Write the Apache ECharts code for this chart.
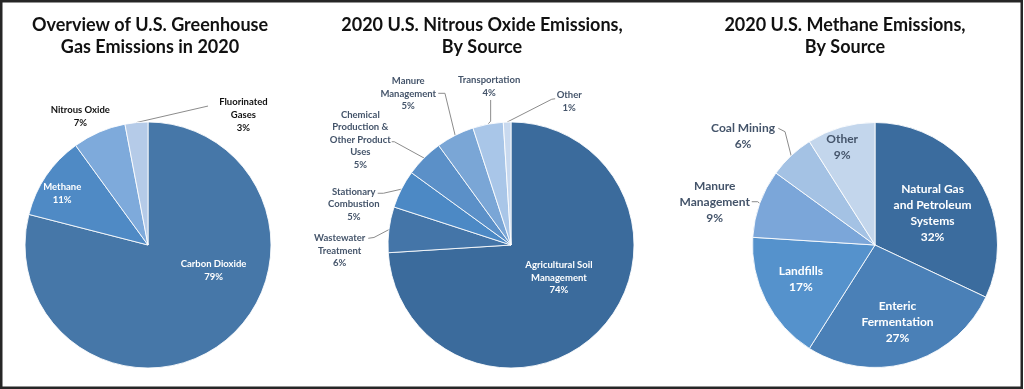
<!DOCTYPE html>
<html><head><meta charset="utf-8">
<script src="https://cdn.jsdelivr.net/npm/echarts@6/dist/echarts.min.js"></script>
<style>html,body{margin:0;padding:0;background:#fff}#c{width:1024px;height:389px}</style>
</head><body><div id="c"></div>
<script>
// ---- data ----
const titles = ['Overview of U.S. Greenhouse\nGas Emissions in 2020', '2020 U.S. Nitrous Oxide Emissions,\nBy Source', '2020 U.S. Methane Emissions,\nBy Source'];
const ghgNames = ['Carbon Dioxide', 'Methane', 'Nitrous Oxide', 'Fluorinated\nGases'];
const ghgValues = [79, 11, 7, 3];
const n2oNames = ['Agricultural Soil\nManagement', 'Wastewater\nTreatment', 'Stationary\nCombustion', 'Chemical\nProduction &\nOther Product\nUses', 'Manure\nManagement', 'Transportation', 'Other'];
const n2oValues = [74, 6, 5, 5, 5, 4, 1];
const ch4Names = ['Natural Gas\nand Petroleum\nSystems', 'Enteric\nFermentation', 'Landfills', 'Manure\nManagement', 'Coal Mining', 'Other'];
const ch4Values = [32, 27, 17, 9, 6, 9];

// ---- styles ----
const ghgColors = ['#4677a8', '#4f8ac5', '#7eaadb', '#b5cbe8'];
const n2oColors = ['#3b6b9c', '#4475a8', '#4c89c5', '#5b90c8', '#7aa6d6', '#a9c6e8', '#c8d9ef'];
const ch4Colors = ['#3b6c9e', '#4a80b7', '#5592cc', '#7ba6d9', '#a4c2e4', '#c3d6ec'];
const WHITE = '#ffffff', DARK = '#111111', SLATE = '#44546a';

// label placement (mode, offset, leader line relative to slice edge point, text colour)
const ghgLab = [
  {mode: 'in', off: [26, -25.3], color: WHITE},
  {mode: 'in', off: [-32.4, -15.6], color: WHITE},
  {mode: 'in', off: [-42.1, -69.5], color: DARK},
  {mode: 'out', off: [107, -8], line: [[71.6, -16.5]], color: DARK}
];
const n2oLab = [
  {mode: 'in', off: [0.9, -11.7], color: WHITE},
  {mode: 'out', off: [-49.3, 21.2], line: [[-15, 7.9], [-20.7, 8.7]], color: SLATE},
  {mode: 'out', off: [-47.6, 14.9], line: [[-18, 4.1], [-23.7, 4.1]], color: SLATE},
  {mode: 'out', off: [-63.7, -18.4], line: [[-29.7, -16.3], [-32.3, -16.3]], color: SLATE},
  {mode: 'out', off: [-46.9, -41.5], line: [[-10.2, -42.1], [-16.9, -42.1]], color: SLATE},
  {mode: 'out', off: [1.2, -37.9], line: [[2.7, -3], [2.7, -24.2]], color: SLATE},
  {mode: 'out', off: [62.1, -20.4], line: [[44.6, -22.8], [48, -23.3]], color: SLATE}
];
const ch4Lab = [
  {mode: 'in', off: [3.3, 2.6], color: WHITE},
  {mode: 'in', off: [4.6, 15.8], color: WHITE},
  {mode: 'in', off: [-16.9, 4.9], color: WHITE},
  {mode: 'out', off: [-45, -1.8], line: [[-2, -1.8], [-8, -1.8]], color: SLATE},
  {mode: 'out', off: [-48.1, -19.4], line: [[-6.1, -24], [-12.8, -27.4]], color: SLATE},
  {mode: 'in', off: [-14.9, -36.5], color: SLATE}
];

function makeLayout(cfg) {
  return function (p) {
    const c = cfg[p.dataIndex];
    if (c.mode === 'in' || !p.labelLinePoints) {
      const cx = p.labelRect.x + p.labelRect.width / 2;
      const cy = p.labelRect.y + p.labelRect.height / 2;
      return {x: cx + c.off[0], y: cy + c.off[1], align: 'center', verticalAlign: 'middle'};
    }
    const p0 = p.labelLinePoints[0];
    const pts = [p0].concat(c.line.map(q => [p0[0] + q[0], p0[1] + q[1]]));
    return {x: p0[0] + c.off[0], y: p0[1] + c.off[1], align: 'center', verticalAlign: 'middle', labelLinePoints: pts};
  };
}

function buildData(names, values, colors, lab) {
  return names.map((n, i) => ({
    name: n, value: values[i],
    itemStyle: {color: colors[i]},
    label: {position: lab[i].mode === 'in' ? 'inside' : 'outside', color: lab[i].color},
    labelLine: {show: lab[i].mode === 'out'}
  }));
}

function pieSeries(center, radius, names, values, colors, lab, fontSize, lineHeight) {
  return {
    type: 'pie', center: center, radius: radius, startAngle: 90, clockwise: true,
    avoidLabelOverlap: false, animation: false, silent: true,
    itemStyle: {borderColor: 'rgba(255,255,255,0.85)', borderWidth: 1},
    label: {show: true, formatter: '{b}\n{c}%', fontFamily: 'Lato', fontWeight: 'bold',
      fontSize: fontSize, lineHeight: lineHeight, align: 'center'},
    labelLine: {show: true, length: 10, length2: 5, smooth: false, lineStyle: {color: '#8c8c8c', width: 1}},
    labelLayout: makeLayout(lab),
    emphasis: {disabled: true},
    data: buildData(names, values, colors, lab)
  };
}

const titleCenters = [150, 482, 845];
const chart = echarts.init(document.getElementById('c'), null, {renderer: 'canvas'});
chart.setOption({
  backgroundColor: '#ffffff',
  animation: false,
  title: titles.map((t, i) => ({
    text: t, left: titleCenters[i], top: 14, textAlign: 'center', padding: 0,
    textStyle: {fontFamily: 'Lato', fontWeight: 'bold', fontSize: 18, lineHeight: 22, color: '#111111'}
  })),
  graphic: [{type: 'rect', silent: true, z: 100,
    shape: {x: 1.25, y: 1.25, width: 1020.5, height: 386.5},
    style: {fill: 'none', stroke: '#262626', lineWidth: 2.5}}],
  series: [
    pieSeries([148, 245], 123, ghgNames, ghgValues, ghgColors, ghgLab, 9.5, 13),
    pieSeries([511, 245], 123, n2oNames, n2oValues, n2oColors, n2oLab, 9.5, 12.5),
    pieSeries([875, 245], 122.5, ch4Names, ch4Values, ch4Colors, ch4Lab, 12, 16)
  ]
});
</script></body></html>
